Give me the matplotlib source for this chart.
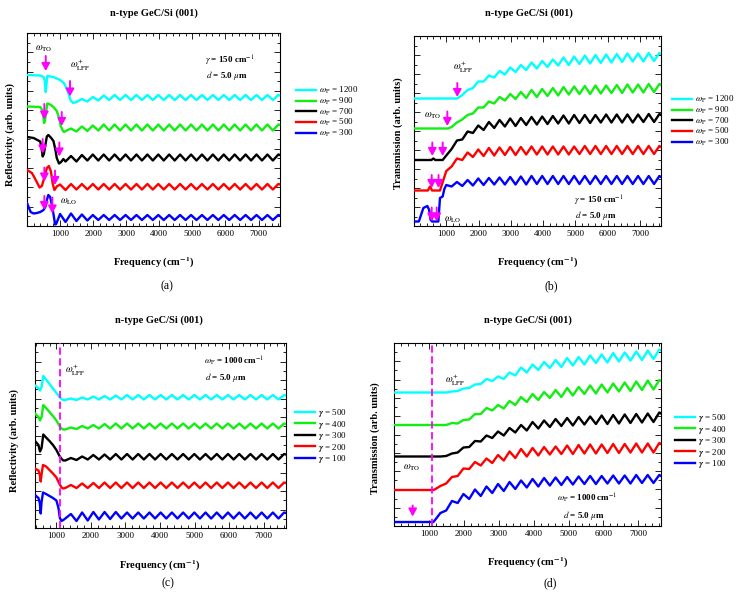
import matplotlib
matplotlib.use("Agg")
import matplotlib.pyplot as plt
from matplotlib.ticker import MultipleLocator, AutoMinorLocator
from matplotlib.lines import Line2D

plt.rcParams['font.family'] = ['Liberation Serif', 'DejaVu Serif']
plt.rcParams['mathtext.fontset'] = 'stix'

# ---------------- DATA (frequency in cm^-1, signal in arb. units) ----------------
grid_abd = [1000, 1165, 1330, 1495, 1660, 1825, 1990, 2155, 2320, 2485, 2650, 2815, 2980, 3145,
            3310, 3475, 3640, 3805, 3970, 4135, 4300, 4465, 4630, 4795, 4960, 5125, 5290, 5455,
            5620, 5785, 5950, 6115, 6280, 6445, 6610, 6775, 6940, 7105, 7270, 7435, 7600, 7650]
grid_c = [1257, 1420, 1582, 1745, 1907, 2070, 2232, 2395, 2557, 2720, 2882, 3045, 3207, 3370,
          3532, 3695, 3857, 4020, 4182, 4345, 4507, 4670, 4832, 4995, 5157, 5320, 5482, 5645,
          5807, 5970, 6132, 6295, 6457, 6620, 6782, 6945, 7107, 7270, 7432, 7595, 7650]
x_tick_labels = [1000, 2000, 3000, 4000, 5000, 6000, 7000]

labels_wp = ['1200', '900', '700', '500', '300']
labels_gamma = ['500', '400', '300', '200', '100']

# Panel (a): reflectivity vs plasma frequency
a_cyan_f = [0, 400, 500, 540, 567, 590, 614, 700, 800, 900, 1000, 1100, 1150, 1250, 1320, 1400]
a_cyan_r = [151, 150.5, 149, 145, 134, 142, 150, 149.5, 149, 147.5, 146, 143.5, 141, 133, 125.5, 123]
a_cyan_osc = [124, 127, 124.5, 129, 125.5, 130.5, 126,
              131, 126, 131, 126, 131, 126, 131, 126, 131, 126, 131, 126, 131, 126, 131, 126,
              131, 126, 131, 126, 131, 126, 131, 126, 131, 126, 131, 126, 131, 126, 131, 130.5]
a_green_f = [0, 400, 460, 500, 514, 540, 580, 614, 700, 800, 900, 970, 1020, 1080, 1120, 1200]
a_green_r = [119.5, 119, 116, 108, 103, 104.5, 115, 122.5, 121.5, 119, 115, 108, 100, 95.5, 94, 95.5]
a_green_osc = [97.5, 94.5, 99.5, 95, 100.5, 95.5,
               101.5, 95.5, 101.5, 95.5, 101.5, 95.5, 101.5, 95.5, 101.5, 95.5, 101.5, 95.5,
               101.5, 95.5, 101.5, 95.5, 101.5, 95.5, 101.5, 95.5, 101.5, 95.5, 101.5, 95.5,
               101.5, 95.5, 101.5, 95.5, 101.5, 95.5, 101.5, 95.5, 101.5, 101]
a_black_f = [0, 200, 400, 440, 474, 510, 560, 600, 645, 720, 800, 860, 900, 968, 1030, 1100, 1165]
a_black_r = [89, 88, 84.5, 78, 69.5, 72, 82, 89.5, 91, 88.5, 85, 76, 68, 62.5, 64, 67, 64.5]
a_black_osc = [70, 64.5, 71, 65.5, 71.5, 65.5,
               71.5, 65.5, 71.5, 65.5, 71.5, 65.5, 71.5, 65.5, 71.5, 65.5, 71.5, 65.5,
               71.5, 65.5, 71.5, 65.5, 71.5, 65.5, 71.5, 65.5, 71.5, 65.5, 71.5, 65.5,
               71.5, 65.5, 71.5, 65.5, 71.5, 65.5, 71.5, 65.5, 71.5, 71]
a_red_f = [0, 150, 280, 380, 450, 520, 600, 660, 720, 780, 830, 900]
a_red_r = [56, 53, 45, 38.5, 40, 48, 58, 60, 55, 42, 36, 39.5]
a_red_osc = [41.5, 36, 42, 36.5,
             42, 36.5, 42, 36.5, 42, 36.5, 42, 36.5, 42, 36.5, 42, 36.5, 42, 36.5, 42, 36.5,
             42, 36.5, 42, 36.5, 42, 36.5, 42, 36.5, 42, 36.5, 42, 36.5, 42, 36.5, 42, 36.5,
             42, 36.5, 42, 36.5, 42, 41.5]
a_blue_f = [0, 60, 110, 200, 300, 400, 500, 560, 600, 645, 700, 760, 800, 850, 880, 930]
a_blue_r = [23, 18, 14, 12.5, 13, 14, 16, 19.5, 26, 31, 29, 20, 12, 1.5, 2, 6]
a_blue_osc = [12, 4, 12.5, 5, 11.5, 5.5, 11,
              6, 11, 6, 11, 6, 11, 6, 11, 6, 11, 6, 11, 6, 11, 6, 11, 6, 11,
              6, 11, 6, 11, 6, 11, 6, 11, 6, 11, 6, 11, 6, 11, 6, 11, 10.5]

# Panel (b): transmission vs plasma frequency
b_cyan_f = [0, 1340, 1495]
b_cyan_t = [127.5, 127.5, 131]
b_cyan_osc = [136, 138, 144.5, 144.5, 150.5, 148.5, 155, 151.5, 158.5, 154, 161, 156, 163.5, 157.5,
              165, 159, 166.5, 160.5, 168.5, 161, 169.5, 162, 170.5, 162.5, 171, 163, 171.5, 163.5,
              172, 164, 172.5, 164.5, 172.5, 164.5, 173, 165, 173, 172]
b_green_f = [0, 1063]
b_green_t = [97.5, 97.5]
b_green_osc = [99, 103.5, 106.5, 111, 112.5, 118.5, 118.5, 124.5, 122.5, 129, 125.5, 132, 127, 134,
               128, 136, 129, 137, 130, 138, 130.5, 139, 131.5, 139.5, 132, 140, 132, 140.5, 132.5,
               140.5, 133, 141, 133, 141.5, 133.5, 141.5, 133.5, 142, 134, 142, 141]
b_black_f = [0, 540, 600, 660, 888]
b_black_t = [66, 66, 67.5, 66, 66]
b_black_osc = [70.5, 77, 85.5, 86.5, 94.5, 93, 100.5, 96, 104, 98, 106, 99.5, 107.5, 100, 108, 101,
               109, 101.5, 109.5, 102, 110, 102.5, 110.5, 102.5, 111, 103, 111, 103, 111, 103.5,
               111.5, 103.5, 111.5, 103.5, 111.5, 103.5, 111.5, 104, 112, 104, 112, 111]
b_red_f = [0, 430, 496, 560, 805, 900]
b_red_t = [35.5, 35.5, 39.5, 35.5, 35.5, 45]
b_red_osc = [55, 59.5, 67.5, 66, 73.5, 69, 76.5, 70, 78, 70.5, 78.5, 71, 79, 71, 79, 71.5, 79.5,
             71.5, 79.5, 71.5, 79.5, 71.5, 79.5, 71.5, 79.5, 72, 80, 72, 80, 72, 80, 72, 80, 72,
             80, 72, 80, 72, 80, 72, 80, 79]
b_blue_f = [0, 150, 290, 413, 470, 516, 560, 754, 805, 888, 940]
b_blue_t = [4.5, 4.5, 18, 20, 16, 6, 4.5, 4.5, 28, 29.5, 37]
b_blue_osc = [41, 39.5, 44, 40, 46, 40.5, 47.5, 41, 48, 41.5, 48.5, 41.5, 49, 41.5, 49.5, 41.5, 50, 42,
              50, 42, 50, 42, 50, 42, 50, 42, 50, 42, 50, 42, 50, 42, 50, 42, 50, 42, 50, 42, 50, 42,
              50, 49]

# Panel (c): reflectivity vs damping
c_head_f = [380, 480, 525, 570, 620, 700, 800, 900, 1000, 1090, 1150, 1200]
c_cyan_r = [142.5, 140, 137.5, 141, 152, 148.5, 144, 139.5, 135, 131, 129, 128]
c_cyan_osc = [128, 129.5, 128, 130.5, 128.5, 131.5, 128.5, 132, 128.5, 132.5,
              128.5, 133, 128.5, 133, 128.5, 133, 128.5, 133, 128.5, 133, 128.5, 133, 128.5, 133,
              128.5, 133, 128.5, 133, 128.5, 133, 128.5, 133, 128.5, 133, 128.5, 133, 128.5, 133,
              128.5, 133, 132.5]
c_green_r = [114.5, 111, 107.5, 111, 123, 120, 116, 112, 107.5, 102, 99.5, 98.5]
c_green_osc = [98.5, 100.5, 99, 102, 99.5, 103, 99.5, 104, 99.5, 104.5,
               99.5, 104.5, 99.5, 104.5, 99.5, 104.5, 99.5, 104.5, 99.5, 104.5, 99.5, 104.5, 99.5,
               104.5, 99.5, 104.5, 99.5, 104.5, 99.5, 104.5, 99.5, 104.5, 99.5, 104.5, 99.5, 104.5,
               99.5, 104.5, 99.5, 104.5, 104]
c_black_r = [87, 83, 76.5, 80, 93.5, 90.5, 87, 83, 78, 72, 69, 67.5]
c_black_osc = [67.5, 70, 68, 71.5, 68.5, 73, 68.5, 73.5, 68.5, 74,
               68.5, 74, 68.5, 74, 68.5, 74, 68.5, 74, 68.5, 74, 68.5, 74, 68.5, 74, 68.5, 74,
               68.5, 74, 68.5, 74, 68.5, 74, 68.5, 74, 68.5, 74, 68.5, 74, 68.5, 74, 73.5]
c_red_f = [380, 480, 520, 545, 575, 612, 700, 800, 900, 1000, 1090, 1150, 1200]
c_red_r = [59.5, 57.5, 53, 46.5, 55, 63, 61.5, 58, 54.5, 50.5, 44, 40.5, 39.5]
c_red_osc = [40, 43, 40, 44.5, 40, 45, 40, 45.5, 40, 45.5,
             40, 45.5, 40, 45.5, 40, 45.5, 40, 45.5, 40, 45.5, 40, 45.5, 40, 45.5, 40, 45.5,
             40, 45.5, 40, 45.5, 40, 45.5, 40, 45.5, 40, 45.5, 40, 45.5, 40, 45.5, 45]
c_blue_f = [380, 480, 520, 545, 570, 612, 700, 800, 900, 1000, 1060, 1100, 1150, 1200]
c_blue_r = [33, 30, 25, 14.5, 26, 35.5, 34, 32, 30, 27.5, 20, 10, 7, 8]
c_blue_osc = [9.5, 14, 7, 15.5, 7.5, 16, 8.5, 16, 9, 16,
              9.5, 15.5, 9.5, 15.5, 9.5, 15.5, 9.5, 15.5, 9.5, 15.5, 9.5, 15.5, 9.5, 15.5, 9.5,
              15.5, 9.5, 15.5, 9.5, 15.5, 9.5, 15.5, 9.5, 15.5, 9.5, 15.5, 9.5, 15.5, 9.5, 15.5, 15]

# Panel (d): transmission vs damping
d_cyan_f = [0, 1500]
d_cyan_t = [133.5, 133.5]
d_cyan_osc = [134.5, 135, 137.5, 138, 141.5, 142, 147, 145, 149.5, 147, 153.5, 150.5, 158.5, 153.5,
              161.5, 156, 164, 158, 166, 159, 168, 160.5, 169, 161.5, 170.5, 163, 171.5, 163.5,
              173, 164.5, 173.5, 165.5, 174.5, 166, 175.5, 167, 176.5, 175.5]
d_green_f = [0, 1330]
d_green_t = [101, 101]
d_green_osc = [101, 103, 102.5, 106, 106.5, 112, 112, 118, 115.5, 121, 117.5, 125, 121, 129, 124,
               132, 126, 134, 128, 136, 129, 138, 130.5, 139, 132, 140.5, 132.5, 141.5, 133.5,
               142.5, 134.5, 143.5, 135, 144.5, 136, 145.5, 136.5, 146, 145]
d_black_f = [0, 1330]
d_black_t = [69.5, 69.5]
d_black_osc = [70, 72.5, 73.5, 78.5, 79, 85, 84.5, 90.5, 88, 94.5, 90.5, 98, 93.5, 101, 95.5, 104,
               97.5, 105.5, 99, 107, 100, 108, 100.5, 109, 101.5, 109.5, 102, 110.5, 102, 111,
               102.5, 111.5, 103, 112, 103.5, 112.5, 104, 113.5, 112.5]
d_red_f = [0, 1127]
d_red_t = [36, 36]
d_red_osc = [36.5, 40, 42.5, 49, 50, 57.5, 57, 64, 60.5, 67.5, 63, 71, 65.5, 74.5, 68, 77, 69.5, 78,
             70.5, 79, 71.5, 79.5, 72, 80.5, 72, 81, 72.5, 81.5, 72.5, 81.5, 73, 82, 73, 82, 73.5,
             82.5, 73.5, 82.5, 73.5, 83, 82]
d_blue_f = [0, 1127]
d_blue_t = [4, 4]
d_blue_osc = [5.5, 13, 15.5, 25, 23, 32, 27, 36.5, 30, 39.5, 33, 42, 35, 44, 37, 45.5, 38.5, 47,
              39.5, 48, 40.5, 48.5, 41, 49, 41.5, 49.5, 42, 50, 42, 50, 42.5, 50.5, 42.5, 50.5,
              42.5, 51, 43, 51, 43, 51, 50]

# arrow markers: (frequency, tip, tail)
a_arrows = [(567, 155, 170), (1300, 129.5, 145), (524, 106.5, 122), (1049, 100, 114),
            (474, 72.5, 87), (978, 69.5, 83.5), (524, 44.5, 58.5), (847, 41, 55.5),
            (524, 16, 30), (766, 12.5, 28.5)]
b_arrows = [(1341, 129, 143), (1032, 100, 114.5), (567, 70, 83.5), (889, 70, 83.5),
            (548, 38, 51), (760, 38, 51), (548, 4.5, 18.5), (702, 4.5, 18.5)]
d_arrows = [(535, 9.5, 20.5)]
lpp_line = 1090

# ---------------- FIGURE ----------------
W, H = 738, 600
fig = plt.figure(figsize=(W / 100, H / 100), dpi=100)
MAG = '#ff00ff'
COLS = ['#00ffff', '#11ee11', '#000000', '#ff0000', '#0000ff']


def fx(x):
    return x / W


def fy(y):
    return 1 - y / H


def make_ax(l, t, r, b, xlim, ylim):
    ax = fig.add_axes([fx(l), fy(b), (r - l) / W, (b - t) / H])
    ax.set_xlim(*xlim)
    ax.set_ylim(*ylim)
    ax.set_xticks(x_tick_labels)
    ax.xaxis.set_minor_locator(MultipleLocator(200))
    ax.yaxis.set_major_locator(MultipleLocator(ylim[1] / 10))
    ax.yaxis.set_minor_locator(AutoMinorLocator(2))
    ax.tick_params(which='both', direction='in', top=True, right=True, labelleft=False,
                   labelsize=6.5, width=0.6, pad=3)
    ax.tick_params(which='major', length=4)
    ax.tick_params(which='minor', length=2.5)
    for s in ax.spines.values():
        s.set_linewidth(0.8)
    return ax


def curve(ax, head_f, head_y, osc, grid, color):
    xs = list(head_f) + list(grid[-len(osc):])
    ys = list(head_y) + list(osc)
    ax.plot(xs, ys, color=color, lw=1.7, solid_joinstyle='round', zorder=3)


def arrows(ax, lst):
    for f, tip, tail in lst:
        ax.annotate('', xy=(f, tip), xytext=(f, tail),
                    arrowprops=dict(arrowstyle='-|>,head_length=0.55,head_width=0.3',
                                    color=MAG, lw=1.4, mutation_scale=8, shrinkA=0, shrinkB=0),
                    zorder=5)


def legend(ax, labels, x, y):
    handles = [Line2D([], [], color=c, lw=1.7) for c in COLS]
    ax.legend(handles, labels, loc='upper left', bbox_to_anchor=(fx(x), fy(y)),
              bbox_transform=fig.transFigure, frameon=False, fontsize=6.5,
              handlelength=2.2, handletextpad=0.4, labelspacing=-0.05,
              borderaxespad=0, borderpad=0)


def frame_texts(title_x, title_y, xl_x, xl_y, lab_x, lab_y, letter, yl_x, yl_y, ylabel):
    fig.text(fx(title_x), fy(title_y), 'n-type GeC/Si (001)', ha='center', va='center',
             fontsize=7.5, fontweight='bold')
    fig.text(fx(xl_x), fy(xl_y), r'Frequency (cm$^{\mathbf{-1}}$)', ha='center', va='center',
             fontsize=7.5, fontweight='bold')
    fig.text(fx(lab_x), fy(lab_y), letter, ha='center', va='center', fontsize=8.5)
    fig.text(fx(yl_x), fy(yl_y), ylabel, ha='center', va='center', rotation=90,
             fontsize=7.5, fontweight='bold')


wp_labels = [r'$\omega_{\rm P}$ = ' + s for s in labels_wp]
g_labels = [r'$\boldsymbol{\gamma}$ = ' + s for s in labels_gamma]
ann = dict(fontsize=7, va='center', ha='left', zorder=6)
ann2 = dict(fontsize=6.5, va='center', ha='left', zorder=6, fontweight='bold')

# ---- (a)
axa = make_ax(27, 33, 280, 226, (0, 7650), (0, 193))
for (hf, hy, osc), c in zip([(a_cyan_f, a_cyan_r, a_cyan_osc), (a_green_f, a_green_r, a_green_osc),
                             (a_black_f, a_black_r, a_black_osc), (a_red_f, a_red_r, a_red_osc),
                             (a_blue_f, a_blue_r, a_blue_osc)], COLS):
    curve(axa, hf, hy, osc, grid_abd, c)
arrows(axa, a_arrows)
axa.text(242, 177, r'$\omega_{\rm TO}$', **ann)
axa.text(1300, 161, r'$\omega^{+}_{\rm LPP}$', **ann)
axa.text(5383, 165, r'$\gamma$ = 150 cm$^{-1}$', **ann2)
axa.text(5413, 150, r'$d$ = 5.0 $\mu$m', **ann2)
axa.text(990, 24, r'$\omega_{\rm LO}$', **ann)
legend(axa, wp_labels, 296, 85)
frame_texts(154, 13, 154, 263, 167, 286, '(a)', 10, 134, 'Reflectivity (arb. units)')

# ---- (b)
axb = make_ax(414, 36, 661, 226, (0, 7650), (0, 190))
for (hf, hy, osc), c in zip([(b_cyan_f, b_cyan_t, b_cyan_osc), (b_green_f, b_green_t, b_green_osc),
                             (b_black_f, b_black_t, b_black_osc), (b_red_f, b_red_t, b_red_osc),
                             (b_blue_f, b_blue_t, b_blue_osc)], COLS):
    curve(axb, hf, hy, osc, grid_abd, c)
arrows(axb, b_arrows)
axb.text(1208, 159, r'$\omega^{+}_{\rm LPP}$', **ann)
axb.text(310, 110, r'$\omega_{\rm TO}$', **ann)
axb.text(929, 6, r'$\omega_{\rm LO}$', **ann)
axb.text(4955, 25, r'$\gamma$ = 150 cm$^{-1}$', **ann2)
axb.text(4986, 11, r'$d$ = 5.0 $\mu$m', **ann2)
legend(axb, wp_labels, 672, 94)
frame_texts(529, 13, 538, 263, 551, 286, '(b)', 398, 133, 'Transmission (arb. units)')

# ---- (c)
axc = make_ax(35, 343, 286, 528, (380, 7650), (0, 185))
for (hf, hy, osc), c in zip([(c_head_f, c_cyan_r, c_cyan_osc), (c_head_f, c_green_r, c_green_osc),
                             (c_head_f, c_black_r, c_black_osc), (c_red_f, c_red_r, c_red_osc),
                             (c_blue_f, c_blue_r, c_blue_osc)], COLS):
    curve(axc, hf, hy, osc, grid_c, c)
axc.axvline(lpp_line, color=MAG, lw=1.3, ls=(0, (4, 2)), zorder=4)
axc.text(1249, 158, r'$\omega^{+}_{\rm LPP}$', **ann)
axc.text(5274, 167, r'$\omega_{\rm P}$ = 1000 cm$^{-1}$', **ann2)
axc.text(5303, 151, r'$d$ = 5.0 $\mu$m', **ann2)
legend(axc, g_labels, 295, 407)
frame_texts(159, 320, 160, 566, 168, 583, '(c)', 14, 440, 'Reflectivity (arb. units)')

# ---- (d)
axd = make_ax(394, 343, 661, 526, (0, 7650), (0, 183))
for (hf, hy, osc), c in zip([(d_cyan_f, d_cyan_t, d_cyan_osc), (d_green_f, d_green_t, d_green_osc),
                             (d_black_f, d_black_t, d_black_osc), (d_red_f, d_red_t, d_red_osc),
                             (d_blue_f, d_blue_t, d_blue_osc)], COLS):
    curve(axd, hf, hy, osc, grid_abd, c)
axd.axvline(lpp_line, color=MAG, lw=1.3, ls=(0, (4, 2)), zorder=4)
arrows(axd, d_arrows)
axd.text(1461, 146, r'$\omega^{+}_{\rm LPP}$', **ann)
axd.text(258, 58, r'$\omega_{\rm TO}$', **ann)
axd.text(4670, 28, r'$\omega_{\rm P}$ = 1000 cm$^{-1}$', **ann2)
axd.text(4842, 11, r'$d$ = 5.0 $\mu$m', **ann2)
legend(axd, g_labels, 675, 412)
frame_texts(528, 320, 528, 563, 550, 583, '(d)', 375, 438, 'Transmission (arb. units)')

fig.savefig('out.png', dpi=100)
